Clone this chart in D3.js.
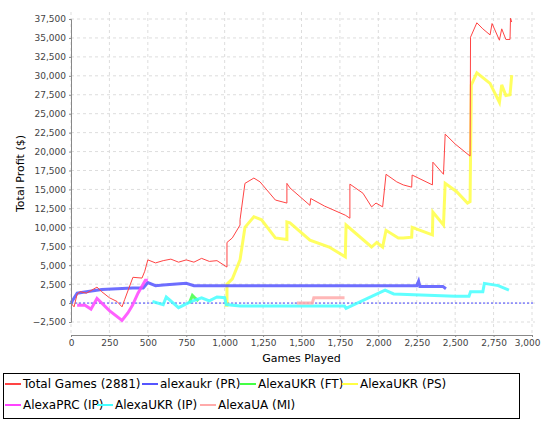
<!DOCTYPE html><html><head><meta charset="utf-8"><script src="https://cdn.jsdelivr.net/npm/d3@7"></script>
<style>body{margin:0;background:#fff}text{font-family:"DejaVu Sans",sans-serif}</style></head><body><svg id="c" width="542" height="423"></svg><script>
const xTicks=[0,250,500,750,1000,1250,1500,1750,2000,2250,2500,2750,3000];
const yTicks=[-2500,0,2500,5000,7500,10000,12500,15000,17500,20000,22500,25000,27500,30000,32500,35000,37500];
const seriesNames=["Total Games (2881)","alexaukr (PR)","AlexaUKR (FT)","AlexaUKR (PS)","AlexaPRC (IP)","AlexaUKR (IP)","AlexaUA (MI)"];
const colors=["#ff4444","#5555ff","#44ff44","#ffff44","#ff44ff","#44ffff","#ffaaaa"];
const widths=[1,3,3,3,3,3,3];
const total=[[0,0],[20,-500],[40,1200],[60,1500],[100,1300],[169,2100],[200,1500],[250,700],[300,200],[332,-500],[350,500],[403,3400],[462,3300],[480,4200],[500,5700],[550,5300],[600,5600],[650,5800],[700,5400],[750,5700],[800,5400],[850,5900],[900,5500],[950,5600],[1015,4750],[1015,8000],[1050,8600],[1100,10300],[1100,11000],[1132,15800],[1190,16500],[1230,16000],[1330,13600],[1405,13200],[1405,15800],[1425,15200],[1555,12900],[1560,13800],[1650,12800],[1785,11600],[1815,11200],[1815,15700],[1900,14500],[1956,12700],[1985,13200],[2028,12700],[2050,17000],[2120,16000],[2162,15600],[2217,15300],[2220,16900],[2352,15600],[2355,18600],[2424,17000],[2435,22300],[2500,21000],[2597,19400],[2600,35100],[2641,37000],[2680,36200],[2727,35400],[2740,36900],[2788,34700],[2803,36200],[2830,34800],[2857,34800],[2860,37600],[2868,37100]];
const pr=[[0,0],[40,1300],[100,1500],[200,1800],[400,2000],[470,2000],[500,2700],[550,2300],[600,2400],[750,2600],[800,2300],[2250,2300],[2262,2900],[2270,2200],[2420,2200],[2440,1900]];
const ft=[[770,0],[790,1000],[810,600],[830,300]];
const ps=[[1000,-300],[1015,-300],[1015,2500],[1050,3200],[1100,5700],[1132,10000],[1190,11400],[1240,11000],[1330,8600],[1405,8400],[1405,10700],[1425,10600],[1555,8300],[1680,7400],[1785,6100],[1790,10300],[1956,7400],[1990,8000],[2028,7400],[2050,9600],[2130,8600],[2162,8600],[2217,8700],[2220,10000],[2352,9000],[2355,12000],[2424,10300],[2435,15800],[2510,14700],[2580,13200],[2597,13400],[2605,28800],[2641,30400],[2727,29000],[2788,26500],[2803,28800],[2830,27400],[2857,27500],[2868,30100]];
const prc=[[40,-300],[91,-300],[130,-800],[169,600],[250,-1000],[332,-2300],[370,-1300],[400,-300],[436,1300],[484,3000],[500,3000]];
const ukr=[[530,200],[600,-200],[620,800],[700,-600],[780,200],[850,700],[900,300],[950,800],[1000,700],[1010,-200],[1100,-400],[1780,-400],[1790,-700],[2044,1700],[2100,1200],[2500,900],[2590,900],[2600,1500],[2680,1500],[2690,2600],[2780,2300],[2850,1700]];
const mi=[[1470,0],[1570,0],[1580,700],[1780,700]];
const data=[total,pr,ft,ps,prc,ukr,mi];
const svg=d3.select("#c");
const m={l:71,r:532,t:12,b:335};
const x=d3.scaleLinear().domain([0,3000]).range([m.l,m.r]);
const y=d3.scaleLinear().domain([-2500,37500]).range([322,19]);
const g=svg.append("g");
xTicks.forEach(t=>g.append("line").attr("x1",x(t)).attr("x2",x(t)).attr("y1",m.t).attr("y2",m.b).attr("stroke","#ddd").attr("stroke-dasharray","3,3"));
yTicks.forEach(t=>g.append("line").attr("x1",m.l).attr("x2",m.r+3).attr("y1",y(t)).attr("y2",y(t)).attr("stroke","#ddd").attr("stroke-dasharray","3,3"));
g.append("line").attr("x1",m.l).attr("x2",m.r+3).attr("y1",y(0)).attr("y2",y(0)).attr("stroke","#4444ff").attr("stroke-dasharray","2,2");
const line=d3.line().x(d=>x(d[0])).y(d=>y(d[1]));
[3,1,2,4,5,6,0].forEach(i=>svg.append("path").attr("d",line(data[i])).attr("fill","none").attr("stroke",colors[i]).attr("stroke-width",widths[i]).attr("stroke-opacity",i?0.85:1));
const xa=svg.append("g").attr("transform",`translate(0,${m.b})`).call(d3.axisBottom(x).tickValues(xTicks).tickFormat(d3.format(",")).tickSize(2));
const ya=svg.append("g").attr("transform",`translate(${m.l},0)`).call(d3.axisLeft(y).tickValues(yTicks).tickFormat(d3.format(",")).tickSize(2));
[xa,ya].forEach(a=>{a.selectAll("text").attr("font-size",9).attr("fill","#444");a.select(".domain").attr("stroke","#888");a.selectAll(".tick line").attr("stroke","#888");});
xa.selectAll("text").filter(d=>d===3000).attr("text-anchor","end").attr("dx",8);
svg.append("text").attr("x",(m.l+m.r)/2).attr("y",362).attr("text-anchor","middle").attr("font-size",11).text("Games Played");
svg.append("text").attr("transform",`translate(24,${(m.t+m.b)/2}) rotate(-90)`).attr("text-anchor","middle").attr("font-size",11).text("Total Profit ($)");
svg.append("rect").attr("x",3.5).attr("y",373.5).attr("width",516).attr("height",45).attr("fill","none").attr("stroke","#000");
const lx=[5,142,240,342,5,97,200],ly=[388,388,388,388,409,409,409];
seriesNames.forEach((n,i)=>{svg.append("line").attr("x1",lx[i]).attr("x2",lx[i]+16).attr("y1",ly[i]-4).attr("y2",ly[i]-4).attr("stroke",colors[i]).attr("stroke-width",2);
svg.append("text").attr("x",lx[i]+18).attr("y",ly[i]).attr("font-family","Liberation Sans, sans-serif").attr("font-size",12).text(n);});
</script></body></html>
